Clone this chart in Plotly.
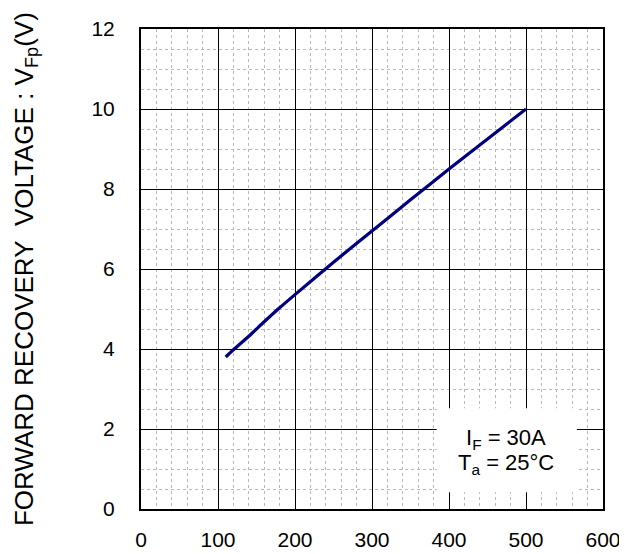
import plotly.graph_objects as go

# Data
di_dt = [110, 120, 140, 160, 180, 200, 250, 300, 350, 400, 450, 500]
vfp = [3.8, 3.98, 4.32, 4.68, 5.03, 5.36, 6.17, 6.95, 7.73, 8.5, 9.25, 10.0]

x_ticks = [0, 100, 200, 300, 400, 500, 600]
y_ticks = [0, 2, 4, 6, 8, 10, 12]

font_family = "Liberation Sans, Arial, sans-serif"

fig = go.Figure()
fig.add_trace(go.Scatter(x=di_dt, y=vfp, mode="lines",
                         line=dict(color="#000080", width=3.2, shape="spline", smoothing=0.6),
                         showlegend=False, hoverinfo="skip"))

axis_common = dict(
    showgrid=True, gridcolor="#000000", gridwidth=1,
    showline=True, linecolor="#000000", linewidth=2, mirror=True,
    zeroline=False, ticks="", automargin=False,
    tickfont=dict(family=font_family, size=21, color="#000000"),
)

fig.update_xaxes(range=[0, 600], tickvals=x_ticks, ticktext=[str(v) for v in x_ticks],
                 minor=dict(dtick=20, showgrid=True, gridcolor="#b8b8b8", griddash="dot", gridwidth=1),
                 ticklabelstandoff=11, **axis_common)
fig.update_yaxes(range=[0, 12], tickvals=y_ticks, ticktext=[str(v) for v in y_ticks],
                 minor=dict(dtick=0.5, showgrid=True, gridcolor="#b8b8b8", griddash="dot", gridwidth=1),
                 ticklabelstandoff=20, **axis_common)

# y-axis title as a rotated annotation
fig.add_annotation(x=-0.251, y=0.5, xref="paper", yref="paper",
                   text="FORWARD RECOVERY\u00a0\u00a0VOLTAGE : V<sub>Fp</sub>(V)",
                   textangle=-90, showarrow=False, xanchor="center", yanchor="middle",
                   font=dict(family=font_family, size=26, color="#000000"))

# condition box
fig.add_shape(type="rect", xref="x", yref="y", x0=384, x1=566, y0=0.42, y1=2.52,
              fillcolor="white", line=dict(width=0), layer="between")
fig.add_annotation(x=474, y=1.75, xref="x", yref="y",
                   text="I<sub>F</sub> = 30A",
                   showarrow=False, align="center",
                   font=dict(family=font_family, size=22, color="#000000"))
fig.add_annotation(x=474, y=1.12, xref="x", yref="y",
                   text="T<sub>a</sub> = 25°C",
                   showarrow=False, align="center",
                   font=dict(family=font_family, size=22, color="#000000"))

fig.update_layout(
    width=619, height=546,
    margin=dict(l=133, r=24, t=21, b=45),
    paper_bgcolor="white", plot_bgcolor="white",
    font=dict(family=font_family, color="#000000"),
)

fig.write_html("out.html")
